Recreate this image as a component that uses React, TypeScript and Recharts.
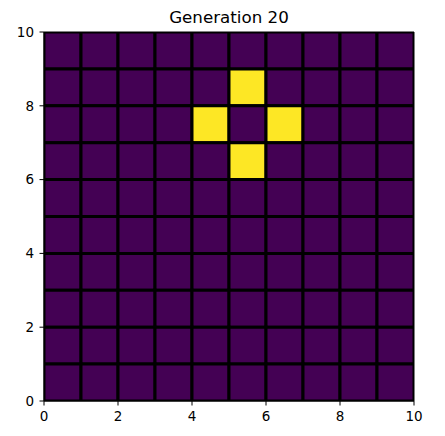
import React from "react";
import { ComposedChart, XAxis, YAxis, ReferenceArea, Scatter } from "recharts";

const title = "Generation 20";
const xTicks = [0, 2, 4, 6, 8, 10];
const yTicks = [0, 2, 4, 6, 8, 10];
// rows listed from top (y = 9..10) down to bottom (y = 0..1); 1 = alive
const rows: number[][] = [
  [0, 0, 0, 0, 0, 0, 0, 0, 0, 0],
  [0, 0, 0, 0, 0, 1, 0, 0, 0, 0],
  [0, 0, 0, 0, 1, 0, 1, 0, 0, 0],
  [0, 0, 0, 0, 0, 1, 0, 0, 0, 0],
  [0, 0, 0, 0, 0, 0, 0, 0, 0, 0],
  [0, 0, 0, 0, 0, 0, 0, 0, 0, 0],
  [0, 0, 0, 0, 0, 0, 0, 0, 0, 0],
  [0, 0, 0, 0, 0, 0, 0, 0, 0, 0],
  [0, 0, 0, 0, 0, 0, 0, 0, 0, 0],
  [0, 0, 0, 0, 0, 0, 0, 0, 0, 0],
];

const DEAD = "#440154";
const ALIVE = "#fde725";
const FONT = "'DejaVu Sans', sans-serif";

const cells = rows.flatMap((row, ri) =>
  row.map((v, x) => ({ x, y: rows.length - 1 - ri, v }))
);

export default function App() {
  return (
    <div style={{ position: "relative", width: 437, height: 428 }}>
      <ComposedChart
        width={437}
        height={428}
        margin={{ top: 24, right: 31, left: 0, bottom: 5 }}
        data={cells.map((c) => ({ cx: c.x + 0.5, cy: c.y + 0.5 }))}
      >
        <XAxis
          type="number"
          dataKey="cx"
          domain={[0, 10]}
          ticks={xTicks}
          allowDataOverflow
          height={30}
          tickSize={4.5}
          tickMargin={6}
          tick={{ fill: "#000", fontSize: 13.5, fontFamily: FONT }}
          stroke="#000"
        />
        <YAxis
          type="number"
          dataKey="cy"
          domain={[0, 10]}
          ticks={yTicks}
          allowDataOverflow
          width={36}
          tickSize={4.5}
          tickMargin={5.5}
          tick={{ fill: "#000", fontSize: 13.5, fontFamily: FONT }}
          stroke="#000"
        />
        {cells.map((c, i) => (
          <ReferenceArea
            key={i}
            x1={c.x}
            x2={c.x + 1}
            y1={c.y}
            y2={c.y + 1}
            fill={c.v ? ALIVE : DEAD}
            fillOpacity={1}
            stroke="#000"
            strokeWidth={3}
            ifOverflow="hidden"
          />
        ))}
        <ReferenceArea
          x1={0}
          x2={10}
          y1={0}
          y2={10}
          fill="none"
          fillOpacity={0}
          stroke="#000"
          strokeWidth={1}
          ifOverflow="visible"
        />
        <Scatter dataKey="cy" isAnimationActive={false} shape={() => null} />
      </ComposedChart>
      <svg
        width={437}
        height={30}
        style={{ position: "absolute", left: 0, top: 0, pointerEvents: "none" }}
      >
        <text
          x={221}
          y={15.3}
          textAnchor="middle"
          fontSize={16.7}
          fontFamily={FONT}
          fill="#000"
        >
          {title}
        </text>
      </svg>
    </div>
  );
}
